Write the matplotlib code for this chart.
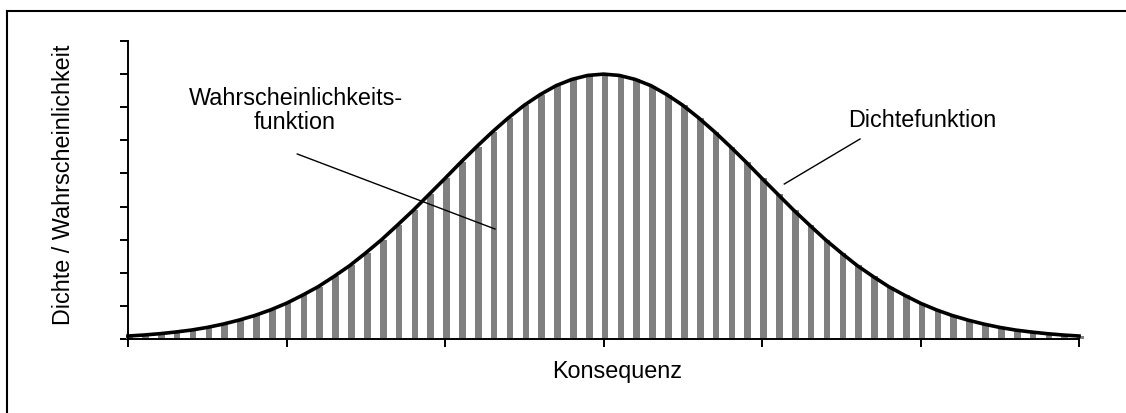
import matplotlib
matplotlib.use("Agg")
import matplotlib.pyplot as plt
from matplotlib.lines import Line2D

plt.rcParams['font.family'] = ['Liberation Sans', 'DejaVu Sans']

# --- data ---
half = [8.00, 7.96, 7.84, 7.65, 7.38, 7.06, 6.68, 6.26, 5.81, 5.34,
        4.85, 4.37, 3.89, 3.44, 3.00, 2.60, 2.22, 1.89, 1.58, 1.32,
        1.08, 0.88, 0.71, 0.57, 0.45, 0.35, 0.27, 0.21, 0.16, 0.12, 0.09]
consequence = [round(-3.0 + 0.1 * i, 1) for i in range(61)]
probability = half[::-1] + half[1:]          # bar heights (Wahrscheinlichkeitsfunktion)
density = probability                         # curve values (Dichtefunktion)
x_ticks = [-3, -2, -1, 0, 1, 2, 3]
y_ticks = [0, 1, 2, 3, 4, 5, 6, 7, 8, 9]

W, H = 1126, 414
fig = plt.figure(figsize=(W / 100, H / 100), dpi=100)
ax = fig.add_axes([128 / W, 1 - 340 / H, (1079 - 128) / W, (340 - 42) / H])

ax.bar([c + 0.01 for c in consequence], probability, width=0.042, color='#808080',
       zorder=2, clip_on=False)
ax.plot(consequence, density, color='black', lw=2.6, zorder=3, clip_on=False,
        solid_joinstyle='round')

ax.set_xlim(-3, 3)
ax.set_ylim(0, 9)
ax.set_xticks(x_ticks)
ax.set_yticks(y_ticks)
ax.tick_params(direction='out', length=5.8, width=1.4, labelbottom=False, labelleft=False,
               color='black')
for s in ['top', 'right']:
    ax.spines[s].set_visible(False)
for s in ['left', 'bottom']:
    ax.spines[s].set_linewidth(1.4)
    ax.spines[s].set_zorder(4)

fs = 16.8
fig.text(616.7 / W, 1 - 377.7 / H, 'Konsequenz', ha='center', va='baseline', fontsize=fs)
fig.text(70 / W, 1 - 185 / H, 'Dichte / Wahrscheinlichkeit', rotation=90,
         rotation_mode='anchor', ha='center', va='baseline', fontsize=fs)
fig.text(295.8 / W, 1 - 105 / H, 'Wahrscheinlichkeits-', ha='center', va='baseline', fontsize=fs)
fig.text(294.2 / W, 1 - 129.3 / H, 'funktion', ha='center', va='baseline', fontsize=fs)
fig.text(922.5 / W, 1 - 126.7 / H, 'Dichtefunktion', ha='center', va='baseline', fontsize=fs)

# leader lines
fig.add_artist(Line2D([297.3 / W, 495 / W], [1 - 155 / H, 1 - 230 / H], color='black', lw=1.0))
fig.add_artist(Line2D([860 / W, 784.3 / W], [1 - 140 / H, 1 - 185 / H], color='black', lw=1.0))

# outer frame (cropped at right and bottom)
fig.add_artist(Line2D([7 / W, 1.0], [1 - 12 / H, 1 - 12 / H], color='black', lw=1.5))
fig.add_artist(Line2D([7 / W, 7 / W], [1 - 12 / H, 0.0], color='black', lw=1.5))

fig.savefig('out.png', dpi=100)
